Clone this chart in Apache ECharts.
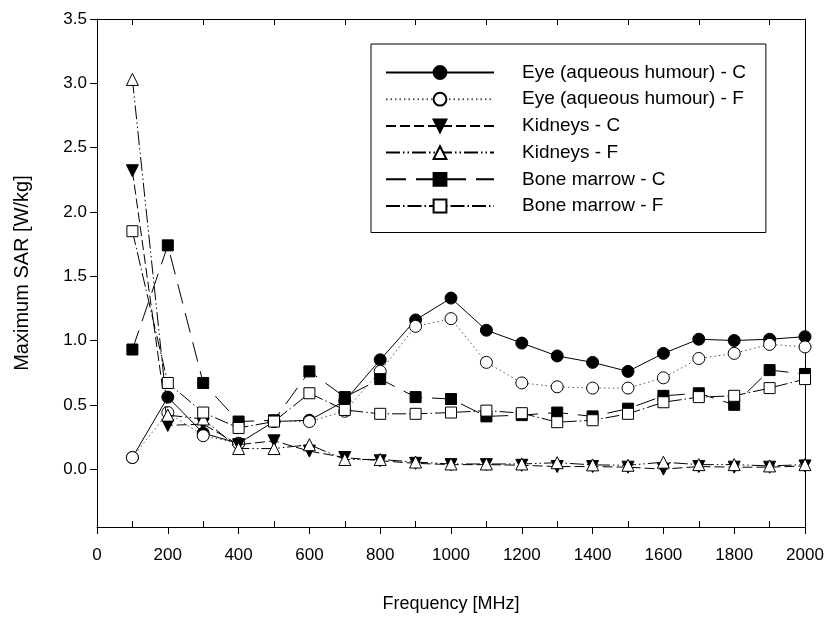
<!DOCTYPE html>
<html>
<head>
<meta charset="utf-8">
<script src="https://cdn.jsdelivr.net/npm/echarts@6/dist/echarts.min.js"></script>
<style>
html,body{margin:0;padding:0;background:#fff;}
#chart{width:827px;height:618px;}
</style>
</head>
<body>
<div id="chart"></div>
<script>
const freq = [100,200,300,400,500,600,700,800,900,1000,1100,1200,1300,1400,1500,1600,1700,1800,1900,2000];
const eyeC = [0.09,0.56,0.28,0.20,0.37,0.38,0.53,0.85,1.16,1.33,1.08,0.98,0.88,0.83,0.76,0.90,1.01,1.00,1.01,1.03];
const eyeF = [0.09,0.44,0.26,0.20,0.37,0.37,0.45,0.76,1.11,1.17,0.83,0.67,0.64,0.63,0.63,0.71,0.86,0.90,0.97,0.95];
const kidC = [2.32,0.34,0.35,0.19,0.22,0.14,0.09,0.065,0.045,0.035,0.035,0.03,0.02,0.02,0.015,0.0,0.02,0.015,0.015,0.025];
const kidF = [3.03,0.42,0.39,0.16,0.16,0.19,0.075,0.075,0.055,0.04,0.04,0.04,0.05,0.033,0.03,0.054,0.035,0.035,0.025,0.035];
const bmC = [0.93,1.74,0.67,0.37,0.38,0.76,0.56,0.70,0.56,0.545,0.41,0.42,0.44,0.41,0.47,0.57,0.59,0.50,0.77,0.74];
const bmF = [1.85,0.67,0.44,0.32,0.37,0.59,0.46,0.43,0.43,0.44,0.455,0.435,0.365,0.38,0.43,0.52,0.56,0.57,0.63,0.70];
const seriesNames = ['Eye (aqueous humour) - C','Eye (aqueous humour) - F','Kidneys - C','Kidneys - F','Bone marrow - C','Bone marrow - F'];
const xMajorTicks = [0,200,400,600,800,1000,1200,1400,1600,1800,2000];
const xMinorTicks = [100,300,500,700,900,1100,1300,1500,1700,1900];
const yTicks = [0,0.5,1.0,1.5,2.0,2.5,3.0,3.5];

const FONT = 'Liberation Sans, Arial, sans-serif';
function pairs(vals){ return freq.map((f,i)=>[f, vals[i]]); }

const styles = [
  {data: eyeC, symbol:'circle', fill:'#000', line:{type:'solid', color:'#000'}},
  {data: eyeF, symbol:'circle', fill:'#fff', line:{type:[1.5,3], color:'#555'}},
  {data: kidC, symbol:'triangle', rotate:180, fill:'#000', line:{type:[10,4], color:'#000'}},
  {data: kidF, symbol:'triangle', fill:'#fff', line:{type:[14,3,1.5,3,1.5,3], color:'#000'}},
  {data: bmC, symbol:'rect', fill:'#000', line:{type:[20,10], color:'#000'}},
  {data: bmF, symbol:'rect', fill:'#fff', line:{type:[14,3,1.5,3], color:'#000'}}
];

const series = styles.map((s,i)=>({
  name: seriesNames[i],
  type: 'line',
  xAxisIndex: 0,
  yAxisIndex: 0,
  data: pairs(s.data),
  symbol: s.symbol,
  symbolSize: s.symbol === 'rect' ? 11 : 12,
  symbolRotate: s.rotate || 0,
  showSymbol: true,
  lineStyle: {width: 1, type: s.line.type, color: s.line.color},
  itemStyle: {color: s.fill, borderColor: '#000', borderWidth: 1, opacity: 1},
  emphasis: {disabled: true},
  z: 2 + i
}));

const chart = echarts.init(document.getElementById('chart'), null, {renderer:'canvas'});
chart.setOption({
  animation: false,
  backgroundColor: '#fff',
  textStyle: {fontFamily: FONT},
  grid: {left: 97, right: 22, top: 19, bottom: 89, containLabel: false},
  legend: {
    orient: 'vertical',
    left: 371,
    top: 44,
    data: seriesNames,
    itemWidth: 108,
    itemHeight: 16,
    itemGap: 7.7,
    borderColor: '#000',
    borderWidth: 1,
    padding: [19, 20, 17, 14],
    backgroundColor: '#fff',
    textStyle: {fontFamily: FONT, fontSize: 19, color: '#000', padding: [0,0,0,23]},
    inactiveColor: '#000',
    selectedMode: false
  },
  xAxis: [
    {
      type: 'value', min: 0, max: 2000, position: 'bottom',
      name: 'Frequency [MHz]', nameLocation: 'middle', nameGap: 68,
      nameTextStyle: {fontFamily: FONT, fontSize: 18, color: '#000'},
      axisLine: {show: true, onZero: false, lineStyle: {color: '#000', width: 1}},
      axisTick: {show: true, inside: false, length: 7, customValues: xMajorTicks, lineStyle: {color: '#000'}},
      axisLabel: {show: true, customValues: xMajorTicks, margin: 20, fontFamily: FONT, fontSize: 17, color: '#000',
                  formatter: v => String(Math.round(v))},
      splitLine: {show: false}
    },
    {
      type: 'value', min: 0, max: 2000, position: 'bottom',
      axisLine: {show: false, onZero: false},
      axisTick: {show: true, inside: true, length: 6, customValues: xMinorTicks, lineStyle: {color: '#000'}},
      axisLabel: {show: false},
      splitLine: {show: false}
    },
    {
      type: 'value', min: 0, max: 2000, position: 'top',
      axisLine: {show: true, onZero: false, lineStyle: {color: '#000', width: 1}},
      axisTick: {show: true, inside: true, length: 6, customValues: xMinorTicks, lineStyle: {color: '#000'}},
      axisLabel: {show: false},
      splitLine: {show: false}
    }
  ],
  yAxis: [
    {
      type: 'value', min: -0.45, max: 3.5, position: 'left',
      name: 'Maximum SAR [W/kg]', nameLocation: 'middle', nameGap: 65,
      nameTextStyle: {fontFamily: FONT, fontSize: 20, color: '#000'},
      axisLine: {show: true, onZero: false, lineStyle: {color: '#000', width: 1}},
      axisTick: {show: true, inside: false, length: 7, customValues: yTicks, lineStyle: {color: '#000'}},
      axisLabel: {show: true, customValues: yTicks, margin: 10, fontFamily: FONT, fontSize: 17, color: '#000',
                  formatter: v => Number(v).toFixed(1)},
      splitLine: {show: false}
    },
    {
      type: 'value', min: -0.45, max: 3.5, position: 'right',
      axisLine: {show: true, onZero: false, lineStyle: {color: '#000', width: 1}},
      axisTick: {show: false},
      axisLabel: {show: false},
      splitLine: {show: false}
    }
  ],
  series: series
});
</script>
</body>
</html>
